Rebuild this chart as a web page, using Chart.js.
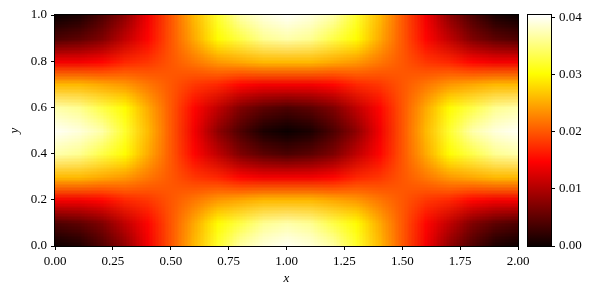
<!DOCTYPE html>
<html>
<head>
<meta charset="utf-8">
<script src="https://cdn.jsdelivr.net/npm/chart.js@4.4.0/dist/chart.umd.min.js"></script>
<style>
  body { margin: 0; background: #fff; }
  #wrap { position: relative; width: 595px; height: 296px; }
  #main { position: absolute; left: 0; top: 0; }
  #bar { position: absolute; left: 500px; top: 0; }
</style>
</head>
<body>
<div id="wrap">
  <canvas id="main" width="595" height="296"></canvas>
  <canvas id="bar" width="95" height="296"></canvas>
</div>
<script>
// grid nodes
const xs = [0, 0.1, 0.2, 0.3, 0.4, 0.5, 0.6, 0.7, 0.8, 0.9, 1.0, 1.1, 1.2, 1.3, 1.4, 1.5, 1.6, 1.7, 1.8, 1.9, 2.0]
const ys = [0, 0.1, 0.2, 0.3, 0.4, 0.5, 0.6, 0.7, 0.8, 0.9, 1.0]

// values, one row per y (bottom to top)
const values = [
    [0.000, 0.001, 0.004, 0.008, 0.014, 0.020, 0.026, 0.032, 0.037, 0.039, 0.040, 0.039, 0.037, 0.032, 0.026, 0.020, 0.014, 0.008, 0.004, 0.001, 0.000], // y=0.0
    [0.004, 0.005, 0.007, 0.011, 0.015, 0.020, 0.025, 0.030, 0.033, 0.036, 0.037, 0.036, 0.033, 0.030, 0.025, 0.020, 0.015, 0.011, 0.007, 0.005, 0.004], // y=0.1
    [0.014, 0.014, 0.015, 0.017, 0.018, 0.020, 0.022, 0.024, 0.025, 0.026, 0.026, 0.026, 0.025, 0.024, 0.022, 0.020, 0.018, 0.017, 0.015, 0.014, 0.014], // y=0.2
    [0.026, 0.026, 0.025, 0.024, 0.022, 0.020, 0.018, 0.017, 0.015, 0.014, 0.014, 0.014, 0.015, 0.017, 0.018, 0.020, 0.022, 0.024, 0.025, 0.026, 0.026], // y=0.3
    [0.037, 0.036, 0.033, 0.030, 0.025, 0.020, 0.015, 0.011, 0.007, 0.005, 0.004, 0.005, 0.007, 0.011, 0.015, 0.020, 0.025, 0.030, 0.033, 0.036, 0.037], // y=0.4
    [0.040, 0.039, 0.037, 0.032, 0.026, 0.020, 0.014, 0.008, 0.004, 0.001, 0.000, 0.001, 0.004, 0.008, 0.014, 0.020, 0.026, 0.032, 0.037, 0.039, 0.040], // y=0.5
    [0.037, 0.036, 0.033, 0.030, 0.025, 0.020, 0.015, 0.011, 0.007, 0.005, 0.004, 0.005, 0.007, 0.011, 0.015, 0.020, 0.025, 0.030, 0.033, 0.036, 0.037], // y=0.6
    [0.026, 0.026, 0.025, 0.024, 0.022, 0.020, 0.018, 0.017, 0.015, 0.014, 0.014, 0.014, 0.015, 0.017, 0.018, 0.020, 0.022, 0.024, 0.025, 0.026, 0.026], // y=0.7
    [0.014, 0.014, 0.015, 0.017, 0.018, 0.020, 0.022, 0.024, 0.025, 0.026, 0.026, 0.026, 0.025, 0.024, 0.022, 0.020, 0.018, 0.017, 0.015, 0.014, 0.014], // y=0.8
    [0.004, 0.005, 0.007, 0.011, 0.015, 0.020, 0.025, 0.030, 0.033, 0.036, 0.037, 0.036, 0.033, 0.030, 0.025, 0.020, 0.015, 0.011, 0.007, 0.005, 0.004], // y=0.9
    [0.000, 0.001, 0.004, 0.008, 0.014, 0.020, 0.026, 0.032, 0.037, 0.039, 0.040, 0.039, 0.037, 0.032, 0.026, 0.020, 0.014, 0.008, 0.004, 0.001, 0.000]  // y=1.0
]

const xTicks = [0, 0.25, 0.5, 0.75, 1.0, 1.25, 1.5, 1.75, 2.0]
const yTicks = [0, 0.2, 0.4, 0.6, 0.8, 1.0]
const cbTicks = [0, 0.01, 0.02, 0.03, 0.04]
const vmin = 0
const vmax = 0.0404

Chart.defaults.font.family = "'Liberation Serif', 'DejaVu Serif', serif"
Chart.defaults.font.size = 13
Chart.defaults.color = '#000'

// matplotlib "hot"
const hot = (t) => {
    t = Math.max(0, Math.min(1, t))
    const r = t < 0.365079 ? 0.0416 + (1 - 0.0416) * t / 0.365079 : 1
    const g = t < 0.365079 ? 0 : (t < 0.746032 ? (t - 0.365079) / (0.746032 - 0.365079) : 1)
    const b = t < 0.746032 ? 0 : (t - 0.746032) / (1 - 0.746032)
    return [Math.round(r * 255), Math.round(g * 255), Math.round(b * 255)]
}

const points = []
ys.forEach((y, j) => xs.forEach((x, i) => points.push({ x: x, y: y, v: values[j][i], i: i, j: j })))

const heatmap = {
    id: 'heatmap',
    beforeDatasetsDraw(chart) {
        const { ctx, chartArea: a, scales: { x, y } } = chart
        const img = document.createElement('canvas')
        img.width = xs.length
        img.height = ys.length
        const ictx = img.getContext('2d')
        const im = ictx.createImageData(xs.length, ys.length)
        chart.data.datasets[0].data.forEach(p => {
            const [r, g, b] = hot((p.v - vmin) / (vmax - vmin))
            const k = ((ys.length - 1 - p.j) * xs.length + p.i) * 4
            im.data[k] = r; im.data[k + 1] = g; im.data[k + 2] = b; im.data[k + 3] = 255
        })
        ictx.putImageData(im, 0, 0)
        const dx = (xs[1] - xs[0]) / 2
        const dy = (ys[1] - ys[0]) / 2
        const x0 = x.getPixelForValue(xs[0] - dx)
        const x1 = x.getPixelForValue(xs[xs.length - 1] + dx)
        const y0 = y.getPixelForValue(ys[ys.length - 1] + dy)
        const y1 = y.getPixelForValue(ys[0] - dy)
        ctx.save()
        ctx.beginPath()
        ctx.rect(a.left, a.top, a.right - a.left, a.bottom - a.top)
        ctx.clip()
        ctx.imageSmoothingEnabled = true
        ctx.drawImage(img, x0, y0, x1 - x0, y1 - y0)
        ctx.restore()
    },
    afterDraw(chart) {
        const { ctx, chartArea: a } = chart
        ctx.save()
        ctx.strokeStyle = '#000'
        ctx.lineWidth = 1
        ctx.strokeRect(a.left - 0.5, a.top - 0.5, a.right - a.left + 1, a.bottom - a.top + 1)
        ctx.restore()
    }
}

const colorbar = {
    id: 'colorbar',
    beforeDatasetsDraw(chart) {
        const { ctx, chartArea: a, scales: { y } } = chart
        const yb = y.getPixelForValue(vmin)
        const yt = y.getPixelForValue(vmax)
        const grad = ctx.createLinearGradient(0, yb, 0, yt)
        ;[0, 0.365079, 0.746032, 1].forEach(s => {
            const [r, g, b] = hot(s)
            grad.addColorStop(s, `rgb(${r},${g},${b})`)
        })
        ctx.save()
        ctx.fillStyle = grad
        ctx.fillRect(a.left, yt, a.right - a.left, yb - yt)
        ctx.strokeStyle = '#000'
        ctx.lineWidth = 1
        ctx.strokeRect(a.left - 0.5, yt - 0.5, a.right - a.left + 1, yb - yt + 1)
        ctx.restore()
    }
}

const tickGrid = { drawOnChartArea: false, drawTicks: true, tickLength: 4, color: '#000', lineWidth: 1 }

new Chart(document.getElementById('main'), {
    type: 'scatter',
    data: {
        datasets: [{
            label: 'field',
            data: points,
            pointRadius: 0,
            pointHoverRadius: 0,
        }]
    },
    options: {
        responsive: false,
        animation: false,
        layout: { padding: { left: 0, top: 15, right: 77, bottom: 0 } },
        plugins: { legend: { display: false }, tooltip: { enabled: false } },
        scales: {
            x: {
                type: 'linear',
                min: 0,
                max: 2,
                afterBuildTicks: s => { s.ticks = xTicks.map(v => ({ value: v })) },
                afterFit: s => { s.height = 50 },
                ticks: { callback: v => v.toFixed(2), padding: 4, maxRotation: 0, autoSkip: false },
                grid: tickGrid,
                border: { display: false },
                title: {
                    display: true,
                    text: 'x',
                    font: { style: 'italic', size: 13 },
                    padding: { top: 0, bottom: 10 }
                }
            },
            y: {
                type: 'linear',
                min: 0,
                max: 1,
                afterBuildTicks: s => { s.ticks = yTicks.map(v => ({ value: v })) },
                afterFit: s => { s.width = 55 },
                ticks: { callback: v => v.toFixed(1), padding: 4, autoSkip: false },
                grid: tickGrid,
                border: { display: false },
                title: {
                    display: true,
                    text: 'y',
                    font: { style: 'italic', size: 13 },
                    padding: { top: 7, bottom: 0 }
                }
            }
        }
    },
    plugins: [heatmap]
})

new Chart(document.getElementById('bar'), {
    type: 'scatter',
    data: { datasets: [{ data: [] }] },
    options: {
        responsive: false,
        animation: false,
        layout: { padding: { left: 28, top: 15, right: 0, bottom: 50 } },
        plugins: { legend: { display: false }, tooltip: { enabled: false } },
        scales: {
            x: { display: false, min: 0, max: 1 },
            y: {
                position: 'right',
                min: vmin,
                max: vmax,
                afterBuildTicks: s => { s.ticks = cbTicks.map(v => ({ value: v })) },
                afterFit: s => { s.width = 44 },
                ticks: { callback: v => v.toFixed(2), padding: 4, autoSkip: false },
                grid: tickGrid,
                border: { display: false }
            }
        }
    },
    plugins: [colorbar]
})
</script>
</body>
</html>
